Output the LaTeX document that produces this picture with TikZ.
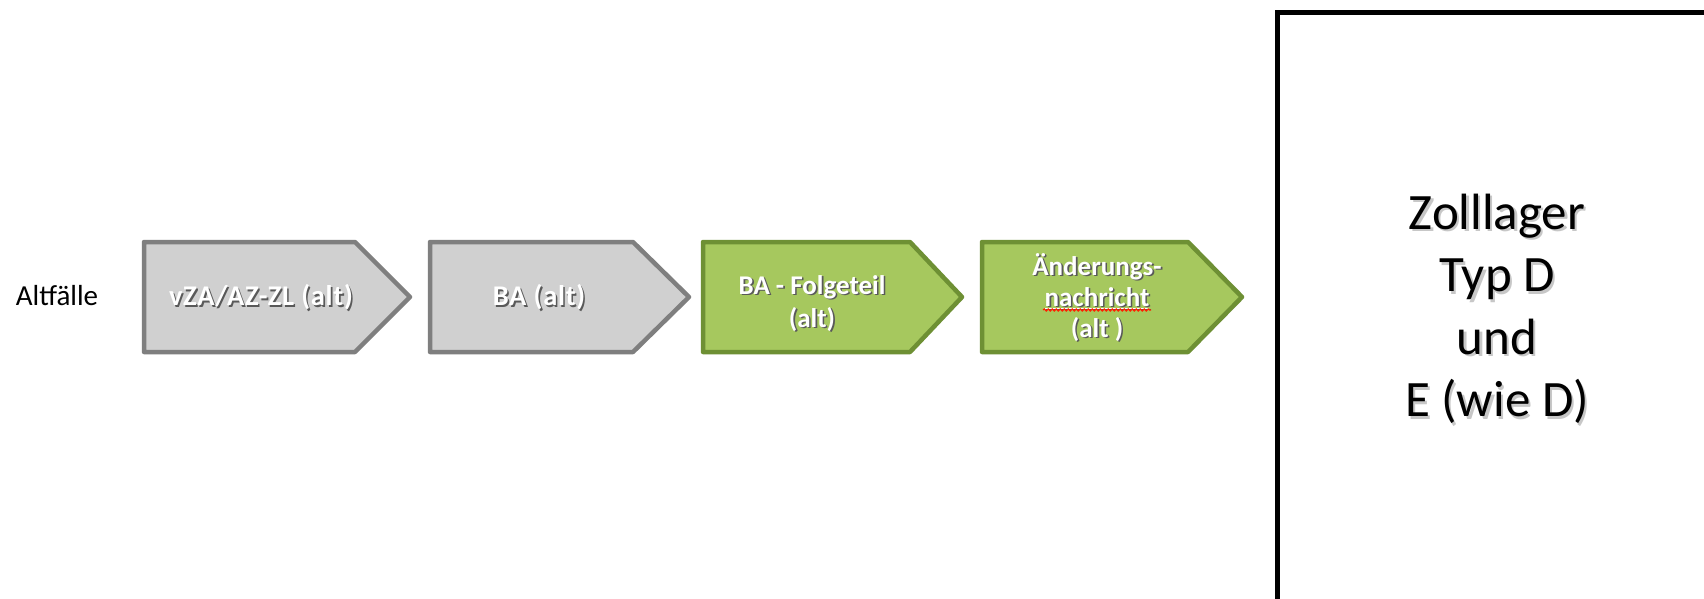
\documentclass[tikz,border=0pt]{standalone}
\usepackage{fontspec}
\setmainfont{Carlito}
\usetikzlibrary{calc,decorations.pathmorphing}

\definecolor{grayfill}{HTML}{D0D0D0}
\definecolor{grayedge}{HTML}{7F7F7F}
\definecolor{greenfill}{HTML}{A6C85E}
\definecolor{greenedge}{HTML}{6E9034}

% white label text with a dark drop shadow
\newcommand\shadowed[1]{\leavevmode\rlap{\kern1.6pt\raisebox{-1.6pt}{\textcolor{black!65}{#1}}}#1}
% dark text with a soft grey shadow
\newcommand\softshadow[1]{\leavevmode\rlap{\kern2.2pt\raisebox{-2.2pt}{\textcolor{black!22}{#1}}}#1}
% keep a fixed line pitch even with underlined lines
\newcommand\fixedpitch{\lineskiplimit=-100pt\relax}
\newcommand\widebold{\addfontfeatures{LetterSpace=2.5}}

\begin{document}
\begin{tikzpicture}[x=1pt,y=-1pt,
  grayarrow/.style={fill=grayfill, draw=grayedge, line width=4.5pt, line join=round},
  greenarrow/.style={fill=greenfill, draw=greenedge, line width=4.5pt, line join=round},
  steplabel/.style={text=white, font={\bfseries\fontsize{27}{#1}\selectfont\fixedpitch},
    align=center, inner sep=0pt},
  steplabel/.default=33,
  graylabel/.style={text=white, font={\bfseries\fontsize{28.5}{34}\selectfont\widebold},
    inner sep=0pt},
  sidelabel/.style={font={\fontsize{29}{35}\selectfont}, inner sep=0pt},
  biglabel/.style={font={\fontsize{51}{62.5}\selectfont}, align=center, inner sep=0pt},
  spellmark/.style={draw=red!75!orange, line width=1.1pt, decorate,
    decoration={snake, amplitude=1.1pt, segment length=4pt}},
]
\clip (0,0) rectangle (1704,598);
\fill[white] (0,0) rectangle (1704,598);

% row label
\node[sidelabel, anchor=base] (alt) at (57,305) {Altfälle};

% process chevrons
\draw[grayarrow]  (144,242) -- (355,242) -- (410,297) -- (355,352) -- (144,352) -- cycle;
\draw[grayarrow]  (430,242) -- (633,242) -- (689,297) -- (633,352) -- (430,352) -- cycle;
\draw[greenarrow] (703,242) -- (910,242) -- (962,297) -- (910,352) -- (703,352) -- cycle;
\draw[greenarrow] (982,242) -- (1188,242) -- (1242,297) -- (1188,352) -- (982,352) -- cycle;

\node[graylabel] (s1) at (261,298) {\shadowed{vZA/AZ-ZL (alt)}};
\node[graylabel] (s2) at (539,298) {\shadowed{BA (alt)}};
\node[steplabel=33] (s3) at (812,304) {\shadowed{BA - Folgeteil}\\\shadowed{(alt)}};
\node[steplabel=31] (s4) at (1097,298) {\shadowed{Änderungs-}\\\shadowed{\underline{nachricht}}\\\shadowed{(alt )}};
\draw[spellmark] ($(s4.center)+(-54,12)$) -- ($(s4.center)+(54,12)$);

% customs warehouse frame
\draw[line width=5pt] (1277.5,640) -- (1277.5,12.5) -- (1730,12.5) -- (1730,640);
\node[biglabel] (zl) at (1497,310)
  {\softshadow{Zolllager}\\\softshadow{Typ D}\\\softshadow{und}\\\softshadow{E (wie D)}};
\end{tikzpicture}
\end{document}
